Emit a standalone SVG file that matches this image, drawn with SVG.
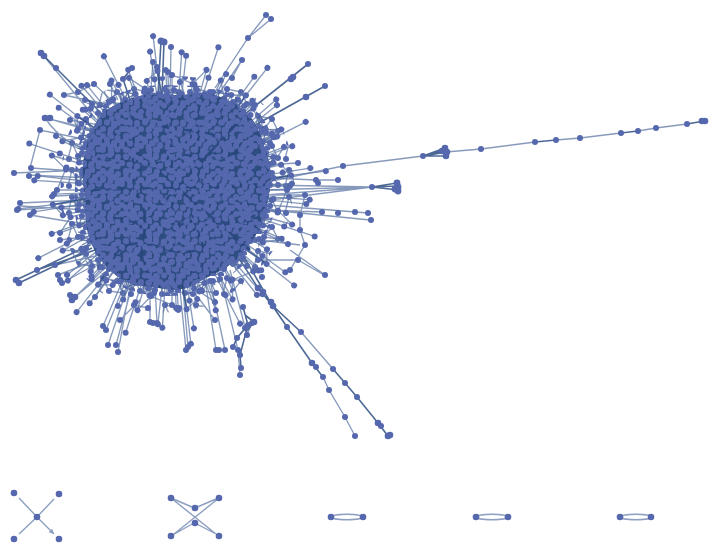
<svg xmlns="http://www.w3.org/2000/svg" width="720" height="554" viewBox="0 0 720 554">
<style>
.n{fill:#5568ae}
.e{stroke:#5f78a6;stroke-opacity:.75;stroke-width:1.35;fill:none}
.d{stroke:#2e4e82;stroke-opacity:.85;stroke-width:1.6;fill:none}
.a{stroke:#8c9fc0;stroke-width:1.4;fill:none}
</style>
<defs>
<marker id="ar" markerWidth="6" markerHeight="6" refX="5" refY="3" orient="auto" markerUnits="userSpaceOnUse"><path d="M0 0.5 L5 3 L0 5.5 Z" fill="#8c9fc0"/></marker>
<pattern id="p1" width="19" height="17" patternUnits="userSpaceOnUse"><g class="n"><circle cx="4" cy="4" r="3"/><circle cx="12" cy="3.6" r="3"/><circle cx="8" cy="10" r="3"/><circle cx="15.5" cy="11" r="3"/><circle cx="3.5" cy="13.5" r="3"/><circle cx="17" cy="0" r="3"/><circle cx="17" cy="17" r="3"/><circle cx="0" cy="7" r="3"/><circle cx="19" cy="7" r="3"/></g></pattern>
<pattern id="p2" width="23" height="21" patternUnits="userSpaceOnUse" patternTransform="translate(7 5)"><g class="n"><circle cx="4" cy="5" r="3"/><circle cx="11" cy="3" r="3"/><circle cx="18.5" cy="7" r="3"/><circle cx="8" cy="12.5" r="3"/><circle cx="15" cy="14" r="3"/><circle cx="4" cy="19" r="3"/><circle cx="4" cy="-2" r="3"/><circle cx="12" cy="19.5" r="3"/><circle cx="12" cy="-1.5" r="3"/><circle cx="0" cy="11" r="3"/><circle cx="23" cy="11" r="3"/></g></pattern>
<pattern id="pr" width="23" height="21" patternUnits="userSpaceOnUse" patternTransform="translate(2 3)"><path class="e" d="M4 5 L18.5 7 L8 12.5 Z M8 12.5 L15 14 L18.5 7 M4 5 L4 19 L12 19.5 L15 14 M11 3 L8 12.5" style="stroke:#3d5a8e"/><g class="n"><circle cx="4" cy="5" r="3"/><circle cx="18.5" cy="7" r="3"/><circle cx="8" cy="12.5" r="3"/><circle cx="15" cy="14" r="3"/><circle cx="4" cy="19" r="3"/><circle cx="12" cy="19.5" r="3"/><circle cx="11" cy="3" r="3"/></g></pattern>
<pattern id="ph" width="31" height="27" patternUnits="userSpaceOnUse" patternTransform="translate(4 2)"><path class="e" d="M6 6 L20 9 L12 19 Z M20 9 L26 21 L12 19 M6 6 L2 22"/><g class="n"><circle cx="6" cy="6" r="3"/><circle cx="20" cy="9" r="3"/><circle cx="12" cy="19" r="3"/><circle cx="26" cy="21" r="3"/><circle cx="3" cy="22" r="3"/></g></pattern>
<g id="fz1">
<path class="e" d="M70 0 L115 0 M70 7 L134.3 14.1 M70 15 L105.6 22.5 M68 22 L142.7 46.4 M66 29 L109.6 48.8 M62 36 L90.9 52.5 M58 42 L113.3 82.3 M53 48 L89.2 80.3 M105.6 22.5 L115 0 M90.9 52.5 L109.6 48.8"/>
<g class="n"><circle cx="115" cy="0" r="3"/><circle cx="134.3" cy="14.1" r="3"/><circle cx="105.6" cy="22.5" r="3"/><circle cx="142.7" cy="46.4" r="3"/><circle cx="112.2" cy="36.5" r="3"/><circle cx="109.6" cy="48.8" r="3"/><circle cx="90.9" cy="52.5" r="3"/><circle cx="113.3" cy="82.3" r="3"/><circle cx="90.6" cy="65.9" r="3"/><circle cx="89.2" cy="80.3" r="3"/></g>
</g>
<g id="fz2">
<path class="e" d="M70 4 L127.8 6.7 M69 12 L110.3 19.4 M67 19 L149 42.7 M65 25 L110.2 42.3 M62 32 L123 62.7 M58 39 L89.5 60.4 M54 44 L97.1 78.7 M110.3 19.4 L115.4 33.1 M89.5 60.4 L97.1 78.7"/>
<path class="d" d="M66 22 L115.4 33.1"/>
<g class="n"><circle cx="127.8" cy="6.7" r="3"/><circle cx="110.3" cy="19.4" r="3"/><circle cx="149" cy="42.7" r="3"/><circle cx="115.4" cy="33.1" r="3"/><circle cx="110.2" cy="42.3" r="3"/><circle cx="123" cy="62.7" r="3"/><circle cx="89.5" cy="60.4" r="3"/><circle cx="97.1" cy="78.7" r="3"/></g>
</g>
<path id="corep" d="M98 120 C 108 104 128 100 140 96 C 160 90 175 98 190 94 C 210 90 232 100 246 112 C 258 124 262 140 268 158 C 274 178 268 196 266 212 C 262 232 248 244 238 258 C 224 272 206 276 192 286 C 176 294 156 286 140 286 C 120 282 108 270 98 256 C 88 240 84 222 86 204 C 84 186 80 168 86 150 C 88 138 92 128 98 120 Z"/>
<path id="ringp" d="M92 112 C 110 90 150 82 180 86 C 215 82 248 98 264 120 C 278 142 282 175 276 202 C 272 230 258 252 240 268 C 220 285 198 296 170 296 C 138 297 110 286 92 264 C 78 244 73 216 75 190 C 74 160 80 130 92 112 Z"/>
</defs>
<rect width="720" height="554" fill="#ffffff"/>
<g id="connectors">
<path class="e" d="M95 118 L43 55 M110 105 L64 95 L78 92 L94 84 L120 108 M118 100 L110 84 M150 100 L153 62 L157 67 M170 95 L171 47 M185 95 L180 82 M215 88 L248 38 L266 15 M248 38 L271 19 M218 95 L242 60 L232 78 M250 140 L272 133 M250 145 L273 136 M248 148 L271 139 M262 165 L298 163 M262 190 L372 187 M265 195 L372 187 M268 185 L372 187 M270 200 L372 187 M268 178 L316 180 L338 180 M268 205 L368 213 M270 210 L370 220 M265 210 L322 212 M270 195 L305 195 L300 215 L300 230 L305 245 L290 270 M290 250 L325 275 M260 240 L300 245 M95 130 L45 118 M95 132 L50 119 M45 118 C 60 140 80 150 95 150 M88 140 L40 130 L30 168 M85 170 L14 173 M88 172 L31 168 M88 178 L29 175 M85 200 L20 203 M87 205 L17 210 M86 210 L20 206 M90 225 L30 215 M100 255 L55 265 M102 258 L58 275 M100 262 L62 283 M108 265 L72 300 M110 268 L75 297 M115 270 L95 297 M125 275 L103 326 M127 278 L106 330 M130 280 L108 345 M133 282 L116 345 M131 282 L118 352 M150 285 L150 322 M155 285 L157 323 M180 290 L186 350 M183 290 L188 347 M205 280 L216 350 M210 280 L225 350 M220 275 L238 350 L240 375 M230 270 L247 335 L252 323 M301 332 L333 369 M298 260 L324 275 M258 260 L298 260 M60 240 L100 235 M70 120 L100 125 M85 100 L115 110 M200 300 L215 320 M140 300 L120 320"/>
<path class="e" style="stroke-width:1.6" d="M262 183 L343 166 L423 156 M446 152 L481 149 L535 142 M556 140 L580 138 L621 133 M638 131 L656 128 L687 124"/>
<path class="d" d="M100 112 L41 53 M104 116 L44 56 M130 100 L123 79 L132 68 M158 95 L161 41 M162 95 L164 42 M240 118 L308 64 M250 128 L325 86 M372 187 L397 183 M372 187 L398 190 M372 187 L398 186 M423 156 L445 148 M423 156 L447 152 M423 156 L446 156 M423 156 L442 151 M535 142 L556 140 M621 133 L638 131 M687 124 L704 121 M90 245 L16 280 M92 248 L19 283 M95 250 L37 270 M235 252 L258 288 M240 250 L272 305 L301 332 M333 369 L345 383 L357 397 L378 423 L388 436 M243 307 L248 325 L237 338 L233 347 M245 315 L254 322 L246 332 L240 355 L241 368 M258 288 L272 305 L287 327 L312 363 L323 377"/>
<path class="e" d="M323 377 L329 390 L345 417 L355 436"/>
</g>
<g id="core">
<path id="halo" d="M75 120 C 90 85 150 70 200 78 C 245 80 280 110 290 150 C 300 190 290 230 270 255 C 250 285 215 310 175 312 C 135 315 100 300 80 270 C 62 240 58 200 62 165 C 64 145 68 132 75 120 Z" fill="url(#ph)"/>
<g id="fuzz">
<use href="#fz1" transform="translate(172 190) rotate(0)"/>
<use href="#fz1" transform="translate(172 190) rotate(45)"/>
<use href="#fz1" transform="translate(172 190) rotate(90)"/>
<use href="#fz1" transform="translate(172 190) rotate(135)"/>
<use href="#fz1" transform="translate(172 190) rotate(180)"/>
<use href="#fz1" transform="translate(172 190) rotate(225)"/>
<use href="#fz1" transform="translate(172 190) rotate(270)"/>
<use href="#fz1" transform="translate(172 190) rotate(315)"/>
<use href="#fz2" transform="translate(172 190) rotate(22)"/>
<use href="#fz2" transform="translate(172 190) rotate(67)"/>
<use href="#fz2" transform="translate(172 190) rotate(112)"/>
<use href="#fz2" transform="translate(172 190) rotate(157)"/>
<use href="#fz2" transform="translate(172 190) rotate(202)"/>
<use href="#fz2" transform="translate(172 190) rotate(247)"/>
<use href="#fz2" transform="translate(172 190) rotate(292)"/>
<use href="#fz2" transform="translate(172 190) rotate(337)"/>
</g>
<use href="#ringp" fill="url(#pr)"/>
<use href="#corep" fill="#2d4c80"/>
<use href="#corep" fill="url(#p1)"/>
<path d="M95 160 C 120 150 140 175 165 160 S 210 170 240 150 M100 220 C 130 210 150 240 180 225 S 230 235 255 215 M130 110 C 140 140 125 170 140 200 S 130 250 150 275 M200 105 C 190 135 210 160 195 190 S 215 240 200 270 M110 130 L250 250 M240 120 L110 260 M170 100 L175 280 M90 190 L265 185 M120 250 C 150 230 160 260 200 250 M150 120 C 170 135 200 125 225 140" stroke="#27477b" stroke-width="2.6" stroke-opacity=".85" fill="none"/>
<use href="#corep" fill="url(#p2)"/>
</g>
<g id="outer-nodes" class="n">
<circle cx="41" cy="53" r="3.3"/><circle cx="44" cy="56" r="3.3"/><circle cx="56" cy="68" r="3"/><circle cx="64" cy="95" r="3"/><circle cx="78" cy="92" r="3"/><circle cx="94" cy="84" r="3"/><circle cx="110" cy="84" r="3"/><circle cx="123" cy="79" r="3"/><circle cx="132" cy="68" r="3"/><circle cx="161" cy="41" r="3.5"/><circle cx="164" cy="42" r="3.5"/><circle cx="153" cy="62" r="3"/><circle cx="157" cy="67" r="3"/><circle cx="171" cy="47" r="3"/><circle cx="180" cy="82" r="3"/>
<circle cx="248" cy="38" r="3"/><circle cx="266" cy="15" r="3"/><circle cx="271" cy="19" r="3"/><circle cx="242" cy="60" r="3"/><circle cx="232" cy="78" r="3"/><circle cx="308" cy="64" r="3"/><circle cx="291" cy="79" r="3.3"/><circle cx="293" cy="77" r="3.3"/><circle cx="325" cy="86" r="3"/><circle cx="306" cy="97" r="3.3"/><circle cx="272" cy="134" r="3.3"/><circle cx="274" cy="137" r="3.3"/><circle cx="298" cy="163" r="3"/>
<circle cx="343" cy="166" r="3"/><circle cx="423" cy="156" r="3"/><circle cx="445" cy="148" r="3.3"/><circle cx="447" cy="152" r="3.3"/><circle cx="446" cy="156" r="3.3"/><circle cx="442" cy="151" r="3.3"/><circle cx="481" cy="149" r="3"/><circle cx="535" cy="142" r="3"/><circle cx="556" cy="140" r="3"/><circle cx="580" cy="138" r="3"/><circle cx="621" cy="133" r="3"/><circle cx="638" cy="131" r="3"/><circle cx="656" cy="128" r="3"/><circle cx="687" cy="124" r="3"/><circle cx="702" cy="121" r="3.3"/><circle cx="705" cy="121" r="3.3"/>
<circle cx="372" cy="187" r="3"/><circle cx="397" cy="183" r="3.4"/><circle cx="398" cy="187" r="3.4"/><circle cx="398" cy="191" r="3.4"/><circle cx="395" cy="189" r="3.4"/><circle cx="316" cy="180" r="3"/><circle cx="318" cy="183" r="3"/><circle cx="338" cy="180" r="3"/><circle cx="368" cy="213" r="3"/><circle cx="371" cy="220" r="3"/><circle cx="355" cy="212" r="3"/><circle cx="338" cy="213" r="3"/><circle cx="322" cy="212" r="3"/><circle cx="305" cy="195" r="3"/><circle cx="300" cy="215" r="3"/><circle cx="300" cy="230" r="3"/><circle cx="305" cy="245" r="3"/><circle cx="290" cy="270" r="3"/><circle cx="325" cy="275" r="3"/><circle cx="298" cy="260" r="3"/><circle cx="258" cy="260" r="3"/><circle cx="262" cy="277" r="3"/>
<circle cx="258" cy="288" r="3.3"/><circle cx="263" cy="292" r="3.3"/><circle cx="271" cy="302" r="3.3"/><circle cx="273" cy="306" r="3.3"/><circle cx="287" cy="327" r="3"/><circle cx="301" cy="332" r="3"/><circle cx="312" cy="363" r="3.3"/><circle cx="316" cy="367" r="3"/><circle cx="323" cy="377" r="3"/><circle cx="329" cy="390" r="3"/><circle cx="345" cy="417" r="3"/><circle cx="355" cy="436" r="3"/><circle cx="333" cy="369" r="3"/><circle cx="345" cy="383" r="3"/><circle cx="357" cy="397" r="3"/><circle cx="378" cy="423" r="3.3"/><circle cx="381" cy="426" r="3"/><circle cx="388" cy="436" r="3.3"/><circle cx="390" cy="435" r="3.3"/>
<circle cx="243" cy="307" r="3"/><circle cx="248" cy="325" r="3"/><circle cx="254" cy="322" r="3.3"/><circle cx="245" cy="328" r="3"/><circle cx="237" cy="338" r="3"/><circle cx="233" cy="347" r="3"/><circle cx="240" cy="355" r="3"/><circle cx="241" cy="368" r="3"/><circle cx="238" cy="350" r="3"/><circle cx="240" cy="375" r="3"/><circle cx="252" cy="323" r="3"/>
<circle cx="45" cy="118" r="3.3"/><circle cx="50" cy="118" r="3.3"/><circle cx="40" cy="130" r="3"/><circle cx="14" cy="173" r="3"/><circle cx="31" cy="168" r="3"/><circle cx="29" cy="176" r="3"/><circle cx="20" cy="203" r="3"/><circle cx="17" cy="210" r="3"/><circle cx="30" cy="215" r="3"/><circle cx="16" cy="280" r="3.3"/><circle cx="19" cy="283" r="3.3"/><circle cx="37" cy="270" r="3"/><circle cx="55" cy="265" r="3"/><circle cx="58" cy="275" r="3"/><circle cx="62" cy="283" r="3"/><circle cx="60" cy="280" r="3"/><circle cx="72" cy="300" r="3.3"/><circle cx="75" cy="297" r="3.3"/><circle cx="70" cy="295" r="3"/><circle cx="95" cy="297" r="3"/><circle cx="103" cy="326" r="3"/><circle cx="106" cy="330" r="3"/><circle cx="108" cy="345" r="3"/><circle cx="116" cy="345" r="3"/><circle cx="118" cy="352" r="3"/><circle cx="150" cy="322" r="3"/><circle cx="153" cy="323" r="3"/><circle cx="157" cy="323" r="3"/><circle cx="186" cy="350" r="3"/><circle cx="188" cy="347" r="3"/><circle cx="216" cy="350" r="3"/><circle cx="219" cy="350" r="3"/><circle cx="225" cy="350" r="3"/><circle cx="247" cy="335" r="3"/><circle cx="60" cy="240" r="3"/><circle cx="70" cy="120" r="3"/><circle cx="85" cy="100" r="3"/><circle cx="215" cy="320" r="3"/><circle cx="120" cy="320" r="3"/>
</g>
<g id="comp1">
<path class="a" d="M37 517 L19 498 M37 517 L54 499 M37 517 L19 534 M37 517 L54 534" marker-end="url(#ar)"/>
<g class="n"><circle cx="37" cy="517" r="3.3"/><circle cx="14" cy="493" r="3.3"/><circle cx="59" cy="494" r="3.3"/><circle cx="14" cy="539" r="3.3"/><circle cx="59" cy="539" r="3.3"/></g>
</g>
<g id="comp2">
<path class="a" d="M171 498 L192 507 M195 508 L216 499 M171 498 L216 534 M219 498 L174 534 M171 536 L192 524 M195 523 L216 534"/>
<g class="n"><circle cx="171" cy="498" r="3.3"/><circle cx="219" cy="498" r="3.3"/><circle cx="171" cy="536" r="3.3"/><circle cx="219" cy="536" r="3.3"/><circle cx="195" cy="508" r="3.3"/><circle cx="195" cy="523" r="3.3"/></g>
</g>
<g id="comp3"><ellipse class="a" cx="347" cy="517" rx="15" ry="2.8"/><g class="n"><circle cx="331" cy="517" r="3.3"/><circle cx="363" cy="517" r="3.3"/></g></g>
<g id="comp4"><ellipse class="a" cx="492" cy="517" rx="15" ry="2.8"/><g class="n"><circle cx="476" cy="517" r="3.3"/><circle cx="508" cy="517" r="3.3"/></g></g>
<g id="comp5"><ellipse class="a" cx="636" cy="517" rx="15" ry="2.8"/><g class="n"><circle cx="620" cy="517" r="3.3"/><circle cx="651" cy="517" r="3.3"/></g></g>
</svg>
